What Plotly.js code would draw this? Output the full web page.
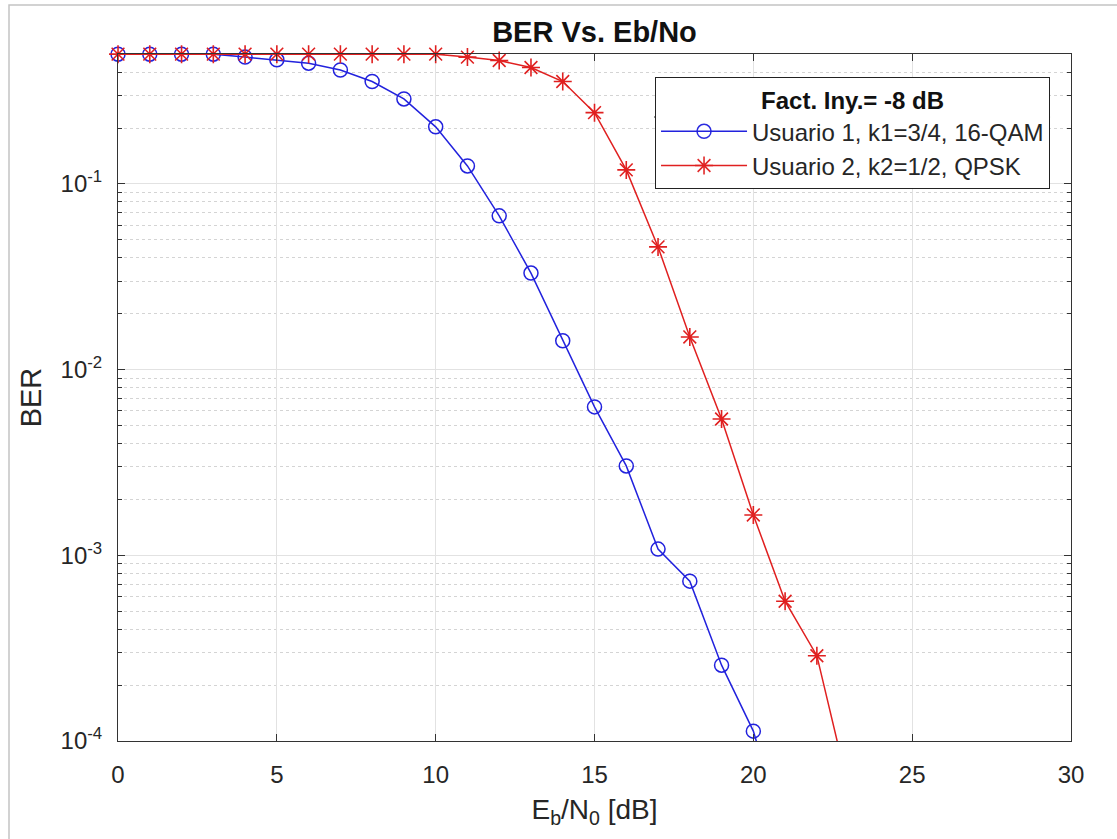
<!DOCTYPE html>
<html>
<head>
<meta charset="utf-8">
<script src="https://cdn.plot.ly/plotly-3.0.1.min.js"></script>
<style>
  html, body { margin: 0; padding: 0; background: #fff; }
  #chart { width: 1117px; height: 839px; }
</style>
</head>
<body>
<div id="chart"></div>
<script>
// ---- data ----
const snrUser1 = [0,1,2,3,4,5,6,7,8,9,10,11,12,13,14,15,16,17,18,19,20,21];
const berUser1 = [0.5,0.5,0.5,0.5,0.482,0.466,0.447,0.411,0.356,0.287,0.203,0.125,0.0673,0.0331,0.0143,0.0063,0.00303,0.00108,0.000726,0.000256,0.000113,0.00003];
const snrUser2 = [0,1,2,3,4,5,6,7,8,9,10,11,12,13,14,15,16,17,18,19,20,21,22,23];
const berUser2 = [0.5,0.5,0.5,0.5,0.5,0.5,0.5,0.5,0.5,0.5,0.5,0.482,0.462,0.424,0.356,0.242,0.119,0.0458,0.015,0.00542,0.00165,0.000566,0.000288,0.000055];
const nameUser1 = 'Usuario 1, k1=3/4, 16-QAM';
const nameUser2 = 'Usuario 2, k2=1/2, QPSK';
const legendTitle = 'Fact. Iny.= -8 dB';
const chartTitle = 'BER Vs. Eb/No';
const xTickVals = [0,5,10,15,20,25,30];
const yTickVals = [1e-4,1e-3,1e-2,1e-1];
const yTickText = ['10<sup>-4</sup>','10<sup>-3</sup>','10<sup>-2</sup>','10<sup>-1</sup>'];
const yMin = 1e-4;
const yMax = 0.5;

// minor log ticks 2..9 per decade
const yMinor = [];
for (let e = -4; e <= -1; e++) for (let m = 2; m <= 9; m++) yMinor.push(m * Math.pow(10, e));

const FONT = 'Liberation Sans, Arial, Helvetica, sans-serif';
const TXT = '#262626';
const BLUE = '#2222dd';
const RED = '#e02020';

// markers drawn unclipped (like MATLAB), but hidden when below the axis floor
const vis = arr => arr.map(v => (v >= yMin ? 1 : 0));

const traces = [
  {
    x: snrUser1, y: berUser1, name: nameUser1, type: 'scatter', mode: 'lines+markers', cliponaxis: false,
    line: { color: BLUE, width: 1.5 },
    marker: { symbol: 'circle-open', size: 14, color: BLUE, opacity: vis(berUser1), line: { width: 1.5, color: BLUE } }
  },
  {
    x: snrUser2, y: berUser2, name: nameUser2, type: 'scatter', mode: 'lines+markers', cliponaxis: false,
    line: { color: RED, width: 1.5 },
    marker: { symbol: 'asterisk-open', size: 15, color: RED, opacity: vis(berUser2), line: { width: 1.6, color: RED } }
  }
];

const layout = {
  width: 1117, height: 839,
  margin: { l: 118, r: 46, t: 54, b: 98 },
  paper_bgcolor: '#fff', plot_bgcolor: '#fff',
  font: { family: FONT, color: TXT, size: 24 },
  title: {
    text: '<b>' + chartTitle + '</b>',
    font: { family: FONT, size: 29, color: '#111' },
    x: 0.5, xref: 'paper', xanchor: 'center',
    y: 1 - 31.7 / 839, yref: 'container', yanchor: 'middle'
  },
  xaxis: {
    range: [-0.0005, 30], tickvals: xTickVals, ticks: 'inside', ticklen: 7, tickcolor: '#333',
    showline: true, linecolor: '#333', linewidth: 1, mirror: 'ticks',
    showgrid: true, gridcolor: '#e2e2e2', gridwidth: 1, zeroline: false,
    tickfont: { size: 24, family: FONT, color: TXT },
    ticklabelstandoff: 12,
    title: { text: 'E<sub>b</sub>/N<sub>0</sub> [dB]', font: { size: 28, family: FONT, color: TXT }, standoff: 12 }
  },
  yaxis: {
    type: 'log', range: [-4, Math.log10(yMax) + 0.0008],
    tickvals: yTickVals, ticktext: yTickText,
    ticks: 'inside', ticklen: 7, tickcolor: '#333',
    showline: true, linecolor: '#333', linewidth: 1, mirror: 'ticks',
    showgrid: true, gridcolor: '#e2e2e2', gridwidth: 1, zeroline: false,
    tickfont: { size: 24, family: FONT, color: TXT },
    ticklabelstandoff: 10,
    minor: { tickvals: yMinor, ticks: 'inside', ticklen: 4, tickcolor: '#333',
             showgrid: true, gridcolor: '#d4d4d4', griddash: 'dot', gridwidth: 1 },
    title: { text: 'BER', font: { size: 29, family: FONT, color: TXT }, standoff: 10 }
  },
  showlegend: true,
  legend: {
    x: 0.978, xanchor: 'right', y: (741 - 77) / 687, yanchor: 'top',
    bgcolor: '#fff', bordercolor: '#222', borderwidth: 1,
    font: { size: 24, family: FONT, color: TXT },
    itemwidth: 86, tracegroupgap: 0,
    title: { text: '<b>' + legendTitle + '</b>', side: 'top center', font: { size: 24, family: FONT, color: '#111' } }
  },
  shapes: [
    { type: 'line', xref: 'paper', yref: 'paper', x0: (654 - 118) / 953, x1: 0.978, y0: (741 - 117) / 687, y1: (741 - 117) / 687,
      line: { color: '#222', width: 1 } },
    { type: 'rect', xref: 'paper', yref: 'paper', x0: (9 - 118) / 953, x1: 1.2, y0: -0.3, y1: (741 - 5) / 687,
      line: { color: '#c4c4c4', width: 1.5 }, layer: 'below' }
  ]
};

Plotly.newPlot('chart', traces, layout, { displayModeBar: false, staticPlot: true });
</script>
</body>
</html>
